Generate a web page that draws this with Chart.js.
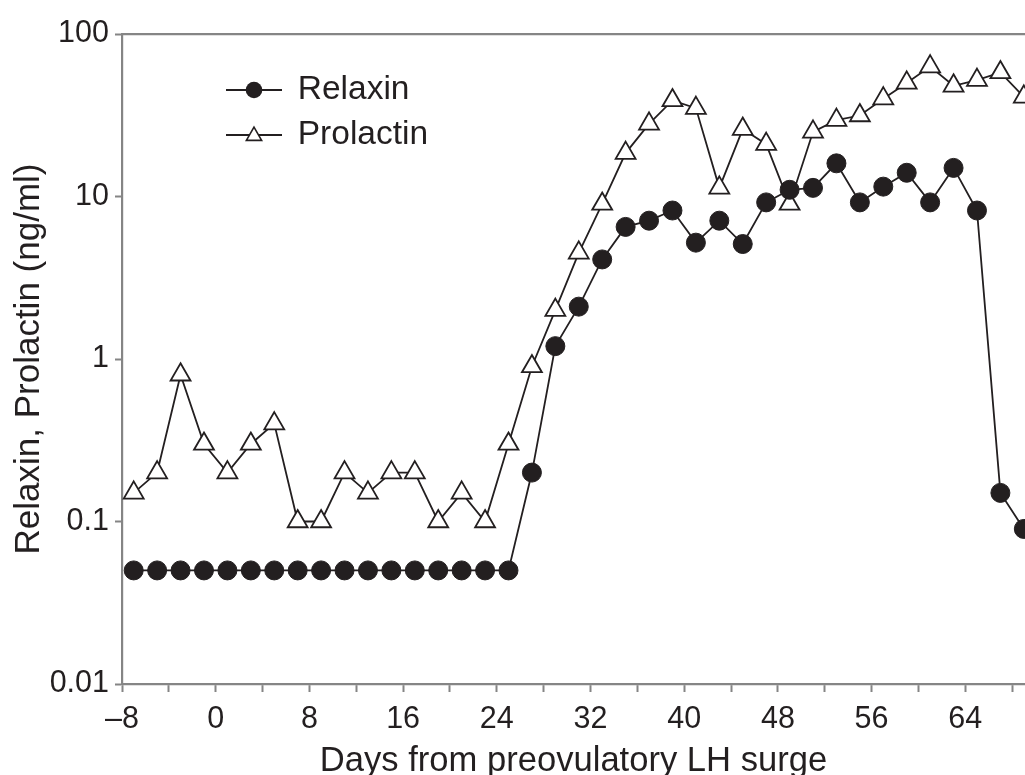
<!DOCTYPE html>
<html>
<head>
<meta charset="utf-8">
<script src="https://cdn.jsdelivr.net/npm/chart.js@4.4.1/dist/chart.umd.min.js"></script>
<style>
  html, body { margin: 0; padding: 0; background: #fff; }
  #wrap { width: 1025px; height: 775px; }
</style>
</head>
<body>
<div id="wrap"><canvas id="c" width="1025" height="775"></canvas></div>
<script>
// ---- data ----
const days = [-7,-5,-3,-1,1,3,5,7,9,11,13,15,17,19,21,23,25,27,29,31,33,35,37,39,41,43,45,47,49,51,53,55,57,59,61,63,65,67,69];
const relaxin = [0.05,0.05,0.05,0.05,0.05,0.05,0.05,0.05,0.05,0.05,0.05,0.05,0.05,0.05,0.05,0.05,0.05,
                 0.2,1.2,2.1,4.1,6.5,7.1,8.2,5.2,7.1,5.1,9.2,11,11.3,16,9.2,11.5,14,9.2,15,8.2,0.15,0.09];
const prolactin = [0.15,0.2,0.8,0.3,0.2,0.3,0.4,0.1,0.1,0.2,0.15,0.2,0.2,0.1,0.15,0.1,0.3,
                   0.9,2.0,4.5,9,18.5,28,39,35,11.3,26,21,9,25,29.5,31.5,40,50,63,48,52,58,41];
const seriesNames = ['Relaxin', 'Prolactin'];
const xTickValues = [-8,-4,0,4,8,12,16,20,24,28,32,36,40,44,48,52,56,60,64,68];
const xLabelValues = [-8,0,8,16,24,32,40,48,56,64];
const xTickLabels = ['\u20138','0','8','16','24','32','40','48','56','64'];
const yTickValues = [0.01,0.1,1,10,100];
const yTickLabels = ['0.01','0.1','1','10','100'];
const xTitle = 'Days from preovulatory LH surge';
const yTitle = 'Relaxin, Prolactin (ng/ml)';

// ---- styles ----
const FONT = '"Liberation Sans", Arial, Helvetica, sans-serif';
const INK = '#231f20';
const AXIS = '#858585';
const LEGEND_FONT = 33.5;
const LEGEND_ROW = 45;

function legendMarker(kind) {
  const c = document.createElement('canvas');
  c.width = 56; c.height = 22;
  const g = c.getContext('2d');
  g.strokeStyle = INK; g.lineWidth = 1.8;
  g.beginPath(); g.moveTo(0, 11); g.lineTo(56, 11); g.stroke();
  if (kind === 'circle') {
    g.fillStyle = INK;
    g.beginPath(); g.arc(28, 11, 8.3, 0, Math.PI * 2); g.fill();
  } else {
    const r = 8.8;
    g.fillStyle = '#fff'; g.lineWidth = 1.6;
    g.beginPath();
    for (let k = 0; k < 3; k++) {
      const a = k * 2 * Math.PI / 3;
      const px = 28 + Math.sin(a) * r, py = 12 - Math.cos(a) * r;
      if (k === 0) g.moveTo(px, py); else g.lineTo(px, py);
    }
    g.closePath(); g.fill(); g.stroke();
  }
  return c;
}
const markers = [legendMarker('circle'), legendMarker('triangle')];

const legendShift = {
  id: 'legendShift',
  afterLayout(chart) {
    const lg = chart.legend; if (!lg) return;
    const ca = chart.chartArea;
    const pad = lg.options.labels.padding;
    const dx = ca.left + 105 - (lg.left + pad);
    const dy = ca.top + 56 - LEGEND_FONT / 2 - (lg.top + pad);
    lg.left += dx; lg.right += dx; lg.top += dy; lg.bottom += dy;
  }
};

new Chart(document.getElementById('c'), {
  type: 'line',
  data: {
    datasets: [
      {
        label: seriesNames[0],
        data: days.map((d, i) => ({ x: d, y: relaxin[i] })),
        borderColor: INK, borderWidth: 1.8,
        pointStyle: 'circle', pointRadius: 9.5, pointHoverRadius: 9.5,
        pointBackgroundColor: INK, pointBorderColor: INK, pointBorderWidth: 1,
        tension: 0, clip: false
      },
      {
        label: seriesNames[1],
        data: days.map((d, i) => ({ x: d, y: prolactin[i] })),
        borderColor: INK, borderWidth: 1.8,
        pointStyle: 'triangle', pointRadius: 11.5, pointHoverRadius: 11.5,
        pointBackgroundColor: '#ffffff', pointBorderColor: INK, pointBorderWidth: 1.8,
        tension: 0, clip: false
      }
    ]
  },
  options: {
    responsive: false,
    animation: false,
    events: [],
    layout: { autoPadding: false, padding: { top: 34, left: 0, right: 0, bottom: 0 } },
    plugins: {
      tooltip: { enabled: false },
      legend: {
        display: true,
        position: 'chartArea',
        align: 'start',
        labels: {
          usePointStyle: true,
          pointStyleWidth: 54,
          boxHeight: 22,
          padding: LEGEND_ROW - LEGEND_FONT,
          textAlign: 'left',
          color: INK,
          font: { family: FONT, size: LEGEND_FONT },
          generateLabels: (chart) => chart.data.datasets.map((ds, i) => ({
            text: ds.label, datasetIndex: i, pointStyle: markers[i],
            fillStyle: INK, strokeStyle: INK, lineWidth: 0, hidden: false, fontColor: INK
          }))
        }
      }
    },
    scales: {
      x: {
        type: 'linear', position: 'bottom',
        min: -8, max: 69.1,
        afterBuildTicks: (s) => { s.ticks = xTickValues.map(v => ({ value: v })); },
        afterFit: (s) => { s.height = 91; s.paddingLeft = 0; s.paddingRight = 0; },
        ticks: {
          autoSkip: false, maxRotation: 0, minRotation: 0, padding: 9,
          color: INK, font: { family: FONT, size: 30.5 },
          callback: (v) => { const k = xLabelValues.indexOf(v); return k >= 0 ? xTickLabels[k] : ''; }
        },
        grid: { drawOnChartArea: false, drawTicks: true, tickLength: 8, tickColor: AXIS, tickWidth: 2 },
        border: { display: true, color: AXIS, width: 2.2 },
        title: { display: true, text: xTitle, color: INK, font: { family: FONT, size: 34.6, lineHeight: 0.8 }, padding: { top: 0, bottom: 0 } }
      },
      x2: {
        type: 'linear', position: 'top',
        min: -8, max: 69.1,
        afterFit: (s) => { s.height = 0; s.paddingLeft = 0; s.paddingRight = 0; },
        ticks: { display: false },
        grid: { drawOnChartArea: false, drawTicks: false },
        border: { display: true, color: AXIS, width: 2.2 }
      },
      y: {
        type: 'logarithmic', position: 'left',
        min: 0.01, max: 100,
        afterBuildTicks: (s) => { s.ticks = yTickValues.map(v => ({ value: v })); },
        afterFit: (s) => { s.width = 122; },
        ticks: {
          autoSkip: false, padding: 6,
          color: INK, font: { family: FONT, size: 30.5 },
          callback: (v) => { const k = yTickValues.findIndex(t => Math.abs(t - v) < t * 1e-6); return k >= 0 ? yTickLabels[k] : ''; }
        },
        grid: { drawOnChartArea: false, drawTicks: true, tickLength: 7, tickColor: AXIS, tickWidth: 2 },
        border: { display: true, color: AXIS, width: 2.2 },
        title: { display: true, text: yTitle, color: INK, font: { family: FONT, size: 35, lineHeight: 1.2 }, padding: { top: 8, bottom: 0 } }
      }
    }
  },
  plugins: [legendShift]
});
</script>
</body>
</html>
